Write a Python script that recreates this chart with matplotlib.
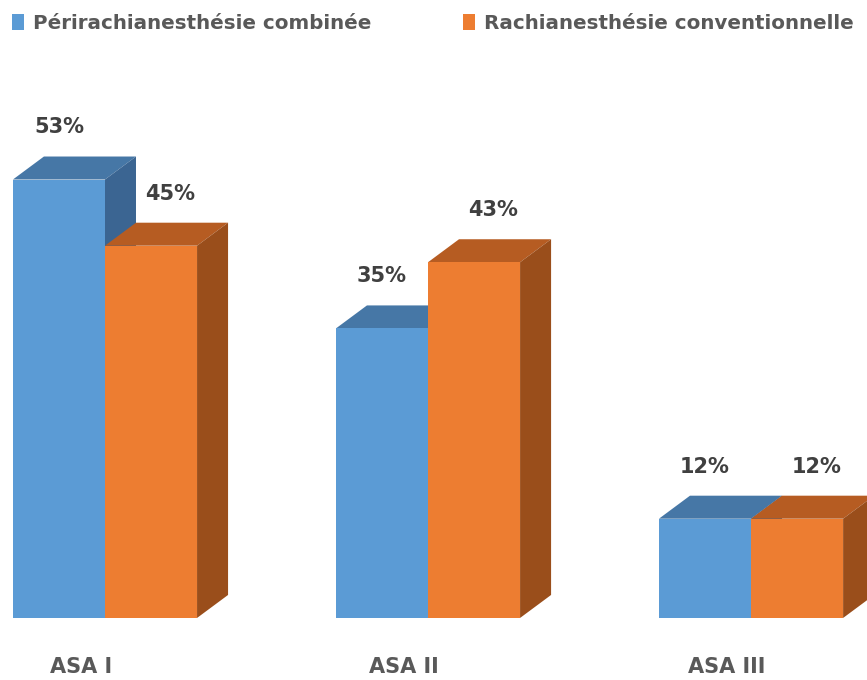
import matplotlib.pyplot as plt
from matplotlib.patches import Polygon, Patch

categories = ['ASA I', 'ASA II', 'ASA III']
series_names = ['Périrachianesthésie combinée', 'Rachianesthésie conventionnelle']
peri = [53, 35, 12]
rachi = [45, 43, 12]
labels_peri = ['53%', '35%', '12%']
labels_rachi = ['45%', '43%', '12%']

front = ['#5B9BD5', '#ED7D31']
top = ['#4677A6', '#B65C22']
side = ['#3B6592', '#9A4E1B']

plt.rcParams['font.family'] = ['DejaVu Sans']

fig = plt.figure(figsize=(8.67, 6.8), dpi=100)
ax = fig.add_axes([0, 0, 1, 1])
ax.set_xlim(-0.325, 2.359)
ax.set_ylim(-7.5, 74.7)
ax.axis('off')

w = 0.285   # bar width
dx = 0.096  # depth offset in x
dy = 2.78   # depth offset in y


def box(x0, h, i, z):
    x1 = x0 + w
    ax.add_patch(Polygon([(x0, h), (x1, h), (x1 + dx, h + dy), (x0 + dx, h + dy)],
                         closed=True, facecolor=top[i], edgecolor='none', zorder=z))
    ax.add_patch(Polygon([(x1, 0), (x1 + dx, dy), (x1 + dx, h + dy), (x1, h)],
                         closed=True, facecolor=side[i], edgecolor='none', zorder=z))
    ax.add_patch(Polygon([(x0, 0), (x1, 0), (x1, h), (x0, h)],
                         closed=True, facecolor=front[i], edgecolor='none', zorder=z))


z = 1
for k in range(len(categories)):
    for i, (vals, labs) in enumerate([(peri, labels_peri), (rachi, labels_rachi)]):
        x0 = k - w if i == 0 else k
        box(x0, vals[k], i, z)
        z += 1
        ax.text(x0 + w / 2 + (0.0 if i == 0 else 0.06), vals[k] + 6.3, labs[k],
                ha='center', va='center', fontsize=15, fontweight='bold',
                color='#404040', zorder=20)
    ax.text(k - 0.075, -5.9, categories[k], ha='center', va='center',
            fontsize=15, fontweight='bold', color='#595959')

handles = [Patch(facecolor=front[0], edgecolor='none'),
           Patch(facecolor=front[1], edgecolor='none')]
fig.legend(handles, series_names, loc='upper left', bbox_to_anchor=(0.004, 0.993),
           ncol=2, frameon=False, handlelength=0.6, handleheight=0.9,
           handletextpad=0.45, columnspacing=4.6, borderaxespad=0.25,
           borderpad=0.2, prop={'size': 14.3, 'weight': 'bold'},
           labelcolor='#595959')

fig.savefig('out.png', dpi=100)
